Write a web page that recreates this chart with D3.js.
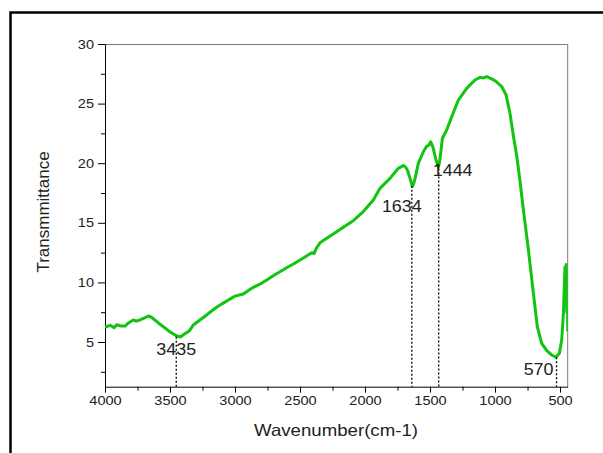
<!DOCTYPE html>
<html>
<head>
<meta charset="utf-8">
<script src="https://cdn.jsdelivr.net/npm/d3@7"></script>
<style>
  html, body { margin: 0; padding: 0; background: #fff; }
  svg { display: block; }
  text { font-family: "Liberation Sans", Arial, sans-serif; fill: #222; }
</style>
</head>
<body>
<svg id="chart" width="603" height="453"></svg>
<script>
// ---- data ----
const wavenumber = [4000, 3992, 3960, 3930, 3910, 3880, 3846, 3820, 3782, 3760, 3731, 3700, 3667, 3645, 3628, 3590, 3551, 3500, 3448, 3420, 3385, 3350, 3321, 3270, 3218, 3180, 3141, 3100, 3051, 3000, 2936, 2900, 2859, 2800, 2756, 2700, 2641, 2600, 2551, 2480, 2410, 2392, 2375, 2346, 2280, 2218, 2150, 2090, 2013, 1936, 1885, 1808, 1744, 1705, 1690, 1674, 1654, 1636, 1625, 1615, 1590, 1570, 1551, 1525, 1510, 1495, 1485, 1475, 1454, 1436, 1425, 1418, 1405, 1372, 1333, 1282, 1218, 1154, 1115, 1090, 1064, 1030, 1000, 948, 915, 885, 859, 833, 810, 782, 744, 705, 675, 641, 602, 564, 531, 505, 487, 474, 462, 456, 452, 448, 444, 441];
const transmittance = [6.2, 6.28, 6.4, 6.2, 6.45, 6.35, 6.34, 6.6, 6.85, 6.75, 6.85, 7.0, 7.18, 7.1, 6.95, 6.6, 6.28, 5.85, 5.5, 5.42, 5.7, 5.95, 6.43, 6.85, 7.27, 7.6, 7.91, 8.2, 8.52, 8.85, 9.03, 9.3, 9.59, 9.9, 10.2, 10.6, 10.98, 11.25, 11.54, 12.0, 12.49, 12.42, 12.85, 13.33, 13.8, 14.25, 14.75, 15.18, 15.94, 16.91, 17.89, 18.73, 19.57, 19.8, 19.7, 19.43, 18.73, 18.05, 18.3, 18.73, 19.99, 20.5, 20.96, 21.44, 21.5, 21.8, 21.55, 21.25, 20.27, 19.66, 20.2, 20.83, 22.09, 22.79, 23.9, 25.3, 26.28, 26.98, 27.2, 27.15, 27.26, 27.1, 26.92, 26.42, 25.72, 24.19, 22.3, 20.6, 18.7, 16.1, 12.8, 9.1, 6.3, 4.89, 4.27, 3.91, 3.72, 4.05, 5.17, 7.41, 11.3, 9.0, 11.5, 7.5, 10.0, 5.9];

const peakLabels = ["3435", "1634", "1444", "570"];
const peakMarkWn = [3452, 1640, 1433, 527];   // where the dotted markers sit in the picture
const peakMarkT  = [5.45, 18.1, 19.9, 3.72];  // transmittance at the marker top

const xTickValues = [4000, 3500, 3000, 2500, 2000, 1500, 1000, 500];
const xMinorValues = [3750, 3250, 2750, 2250, 1750, 1250, 750];
const yTickValues = [5, 10, 15, 20, 25, 30];
const yMinorValues = [2.5, 7.5, 12.5, 17.5, 22.5, 27.5];

const xTitle = "Wavenumber(cm-1)";
const yTitle = "Transmmittance";

// ---- layout ----
const svg = d3.select("#chart");
const L = 105, R = 567.7, T = 44, B = 386.7;
const SX = 1.12; // horizontal stretch of the reference's lettering

const x = d3.scaleLinear().domain([4000, 441]).range([L, R]);
const y = d3.scaleLinear().domain([1.25, 30]).range([B, T]);

// outer frame (left + top lines)
svg.append("path")
  .attr("d", `M10.5,453 L10.5,12.5 L603,12.5`)
  .attr("fill", "none").attr("stroke", "#000").attr("stroke-width", 2.5);

// top / right plot frame lines (grey)
svg.append("line").attr("x1", L).attr("x2", R).attr("y1", T + 0.5).attr("y2", T + 0.5)
  .attr("stroke", "#7a7a7a").attr("stroke-width", 1);
svg.append("line").attr("x1", R).attr("x2", R).attr("y1", T).attr("y2", B)
  .attr("stroke", "#7a7a7a").attr("stroke-width", 1);

// axes
const xAxis = svg.append("g").attr("transform", `translate(0,${B})`)
  .call(d3.axisBottom(x).tickValues(xTickValues).tickSize(6).tickSizeOuter(0).tickPadding(3).tickFormat(d3.format("d")));
svg.append("g").attr("transform", `translate(0,${B})`)
  .call(d3.axisBottom(x).tickValues(xMinorValues).tickSize(4).tickFormat(""))
  .call(g => g.select(".domain").remove());
const yAxis = svg.append("g").attr("transform", `translate(${L},0)`)
  .call(d3.axisLeft(y).tickValues(yTickValues).tickSize(7).tickSizeOuter(0).tickPadding(4).tickFormat(d3.format("d")));
svg.append("g").attr("transform", `translate(${L},0)`)
  .call(d3.axisLeft(y).tickValues(yMinorValues).tickSize(4).tickFormat(""))
  .call(g => g.select(".domain").remove());

svg.selectAll(".tick line").attr("stroke", "#000");
svg.selectAll(".domain").attr("stroke", "#000");
xAxis.selectAll("text").attr("font-size", 13).attr("fill", "#222").attr("dy", "0.71em")
  .attr("transform", `scale(${SX},1)`);
yAxis.selectAll("text").attr("font-size", 13).attr("fill", "#222")
  .attr("x", -11 / SX).attr("transform", `scale(${SX},1)`);
svg.selectAll(".tick text").style("font-family", '"Liberation Sans", Arial, sans-serif');

// curve
svg.append("clipPath").attr("id", "clip").append("rect")
  .attr("x", L).attr("y", T).attr("width", R - L).attr("height", B - T);
const pts = wavenumber.map((w, i) => [w, transmittance[i]]);
svg.append("path")
  .datum(pts)
  .attr("clip-path", "url(#clip)")
  .attr("fill", "none")
  .attr("stroke", "#10c410")
  .attr("stroke-width", 3)
  .attr("stroke-linejoin", "round")
  .attr("d", d3.line().x(d => x(d[0])).y(d => y(d[1])));

// peak markers
const labelOffsets = [[0, 18, "middle"], [-10, 26, "middle"], [-6, 12, "start"], [-3, 18, "end"]];
peakLabels.forEach((lab, i) => {
  const px = x(peakMarkWn[i]);
  svg.append("line")
    .attr("x1", px).attr("x2", px)
    .attr("y1", y(peakMarkT[i])).attr("y2", B)
    .attr("stroke", "#000").attr("stroke-width", 1.3)
    .attr("stroke-dasharray", "2,2");
  const o = labelOffsets[i];
  svg.append("text")
    .attr("transform", `translate(${px + o[0]},${y(peakMarkT[i]) + o[1]}) scale(${SX},1)`)
    .attr("text-anchor", o[2])
    .attr("font-size", 16)
    .text(lab);
});

// axis titles
svg.append("text")
  .attr("transform", `translate(336,436) scale(1.13,1)`)
  .attr("text-anchor", "middle")
  .attr("font-size", 16.5)
  .text(xTitle);
svg.append("text")
  .attr("transform", `translate(49,212) rotate(-90)`)
  .attr("text-anchor", "middle")
  .attr("font-size", 17)
  .text(yTitle);
</script>
</body>
</html>
